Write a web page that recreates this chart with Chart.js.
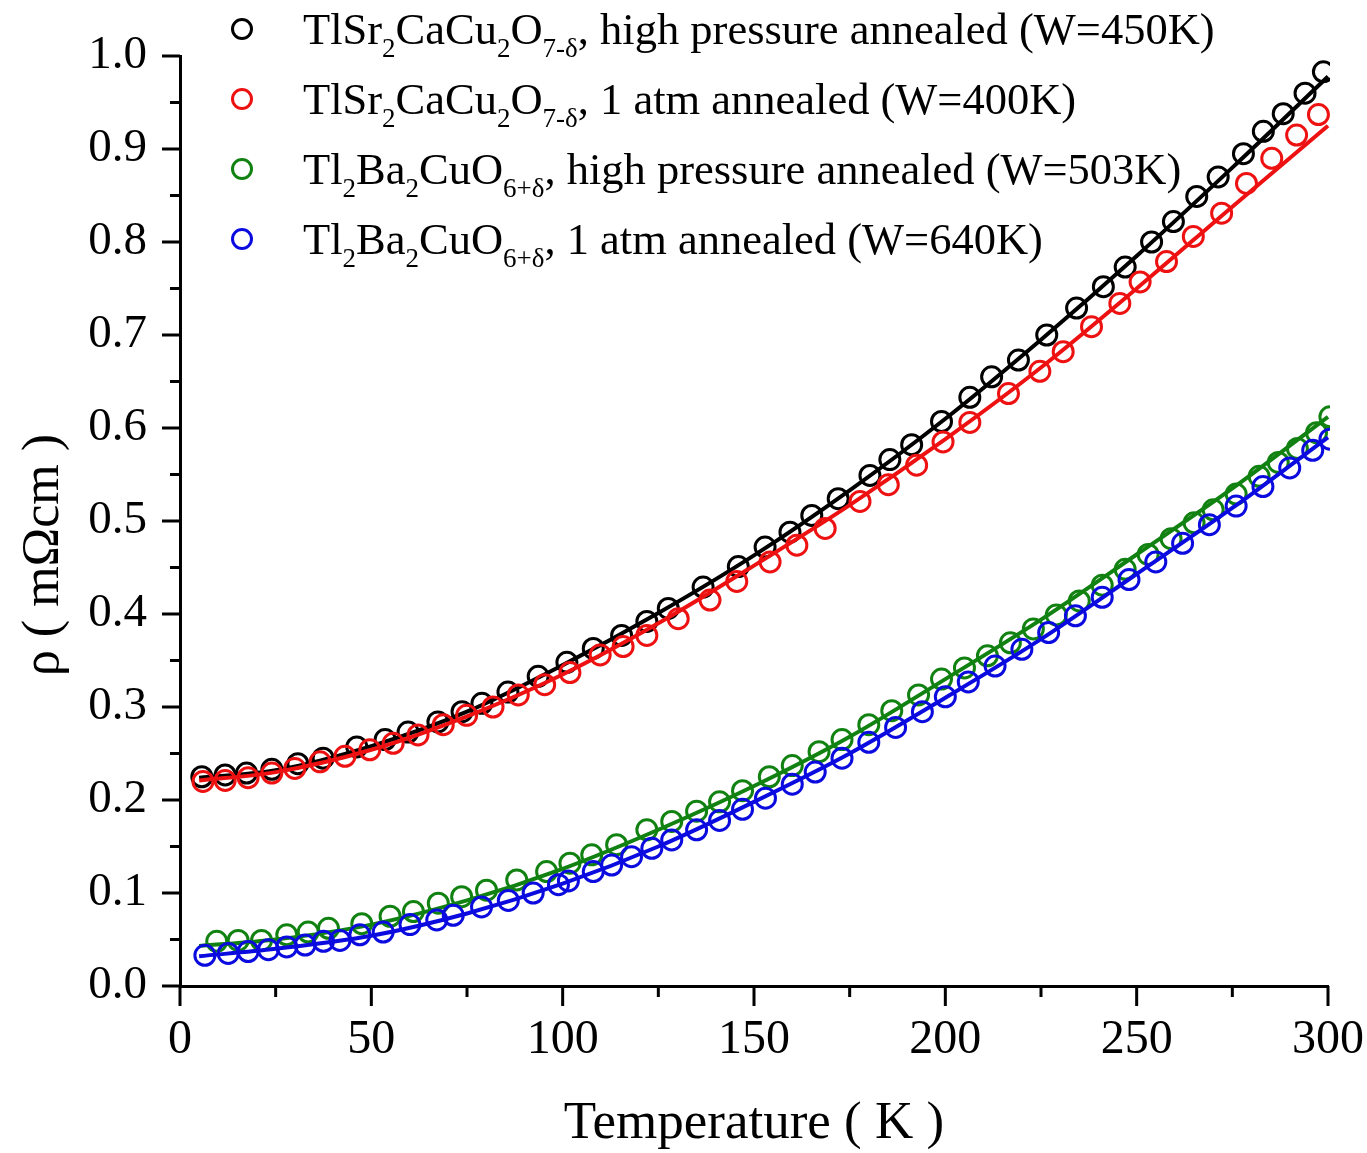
<!DOCTYPE html>
<html>
<head>
<meta charset="utf-8">
<script src="https://cdn.jsdelivr.net/npm/chart.js@4.4.1/dist/chart.umd.min.js"></script>
<style>
  html, body { margin: 0; padding: 0; background: #fff; }
  #wrap { width: 1367px; height: 1153px; position: relative; }
</style>
</head>
<body>
<div id="wrap"><canvas id="rho-chart"></canvas></div>
<script>
// measured points (temperature K, resistivity mOhm cm)
const blackT = [5.7, 11.8, 17.4, 24.0, 30.8, 37.4, 46.2, 53.6, 59.6, 67.4, 73.7, 78.9, 85.7, 93.6, 101.1, 108.0, 115.4, 122.0, 127.6, 136.7, 145.9, 152.9, 159.4, 165.1, 172.0, 180.3, 185.5, 191.2, 199.0, 206.4, 212.1, 219.1, 226.5, 234.3, 241.3, 247.0, 253.9, 259.6, 265.7, 271.3, 277.9, 283.1, 288.3, 294.0, 298.8];
const blackRho = [0.225, 0.227, 0.229, 0.233, 0.239, 0.245, 0.257, 0.265, 0.273, 0.284, 0.295, 0.304, 0.316, 0.333, 0.348, 0.363, 0.377, 0.392, 0.406, 0.429, 0.451, 0.472, 0.488, 0.506, 0.524, 0.549, 0.566, 0.582, 0.607, 0.633, 0.655, 0.673, 0.700, 0.729, 0.752, 0.773, 0.800, 0.822, 0.849, 0.870, 0.895, 0.919, 0.938, 0.960, 0.983];

const redT = [6.0, 11.8, 17.8, 24.0, 30.0, 36.6, 43.1, 49.6, 55.7, 62.2, 68.8, 74.9, 81.8, 88.4, 95.3, 101.9, 109.8, 115.8, 122.0, 130.2, 138.5, 145.5, 154.2, 161.2, 168.6, 177.7, 185.1, 192.5, 199.4, 206.4, 216.5, 224.7, 230.8, 238.2, 245.6, 250.9, 257.8, 264.8, 272.2, 278.7, 285.3, 291.8, 297.5];
const redRho = [0.220, 0.221, 0.224, 0.229, 0.234, 0.241, 0.247, 0.254, 0.261, 0.270, 0.281, 0.291, 0.300, 0.313, 0.324, 0.337, 0.356, 0.365, 0.377, 0.395, 0.415, 0.435, 0.456, 0.474, 0.492, 0.521, 0.539, 0.560, 0.585, 0.606, 0.637, 0.661, 0.682, 0.709, 0.734, 0.757, 0.779, 0.806, 0.831, 0.863, 0.890, 0.915, 0.937];

const greenT = [9.6, 15.2, 21.3, 27.9, 33.5, 38.8, 47.5, 54.9, 61.0, 67.5, 73.6, 80.1, 88.0, 95.8, 101.9, 107.6, 114.1, 122.0, 128.5, 135, 141, 147, 154, 160, 167, 173, 180, 186, 193, 199, 205, 211, 217, 223, 229, 235, 241, 247, 253, 259, 265, 270, 276, 282, 287, 292, 297, 300.5];
const greenRho = [0.048, 0.049, 0.049, 0.055, 0.058, 0.062, 0.067, 0.075, 0.080, 0.089, 0.096, 0.103, 0.114, 0.123, 0.132, 0.141, 0.152, 0.168, 0.177, 0.188, 0.198, 0.210, 0.225, 0.237, 0.252, 0.265, 0.281, 0.296, 0.313, 0.330, 0.342, 0.355, 0.369, 0.384, 0.399, 0.414, 0.431, 0.448, 0.464, 0.481, 0.498, 0.512, 0.529, 0.548, 0.563, 0.578, 0.595, 0.612];

const blueT = [6.5, 12.6, 17.8, 23.1, 27.9, 32.7, 37.5, 41.8, 47.0, 53.1, 60.1, 67.1, 71.4, 78.8, 85.8, 92.3, 98.9, 101.5, 108.0, 112.8, 118.0, 123.3, 128.5, 135, 141, 147, 153, 160, 166, 173, 180, 187, 194, 200, 206, 213, 220, 227, 234, 241, 248, 255, 262, 269, 276, 283, 290, 296, 300.5];
const blueRho = [0.033, 0.035, 0.037, 0.039, 0.042, 0.044, 0.048, 0.049, 0.055, 0.058, 0.066, 0.071, 0.076, 0.085, 0.092, 0.100, 0.109, 0.113, 0.123, 0.130, 0.139, 0.148, 0.157, 0.168, 0.178, 0.190, 0.202, 0.217, 0.230, 0.245, 0.262, 0.278, 0.295, 0.311, 0.327, 0.344, 0.362, 0.380, 0.398, 0.418, 0.437, 0.456, 0.476, 0.496, 0.516, 0.537, 0.557, 0.576, 0.588];

// fitted curves
const fitT = [5, 25, 50, 75, 100, 125, 150, 175, 200, 225, 250, 275, 300];
const blackFit = [0.224, 0.232, 0.258, 0.295, 0.345, 0.401, 0.463, 0.533, 0.610, 0.695, 0.785, 0.880, 0.978];
const redFit = [0.221, 0.230, 0.254, 0.290, 0.335, 0.390, 0.452, 0.517, 0.588, 0.665, 0.750, 0.838, 0.925];
const greenFit = [0.043, 0.050, 0.066, 0.092, 0.126, 0.168, 0.215, 0.268, 0.330, 0.394, 0.464, 0.535, 0.612];
const blueFit = [0.032, 0.040, 0.054, 0.078, 0.110, 0.150, 0.198, 0.250, 0.310, 0.373, 0.443, 0.514, 0.590];

const xMajorTicks = [0, 50, 100, 150, 200, 250, 300];
const xMinorTicks = [25, 75, 125, 175, 225, 275];
const yMajorTicks = [0, 0.1, 0.2, 0.3, 0.4, 0.5, 0.6, 0.7, 0.8, 0.9, 1.0];
const yMinorTicks = [0.05, 0.15, 0.25, 0.35, 0.45, 0.55, 0.65, 0.75, 0.85, 0.95];

const colors = ["#000000", "#ee1111", "#118211", "#0b0be0"];

// legend text pieces: [text, isSubscript]
const legendRows = [
  [["TlSr", 0], ["2", 1], ["CaCu", 0], ["2", 1], ["O", 0], ["7-δ", 1], [", high pressure annealed (W=450K)", 0]],
  [["TlSr", 0], ["2", 1], ["CaCu", 0], ["2", 1], ["O", 0], ["7-δ", 1], [", 1 atm annealed (W=400K)", 0]],
  [["Tl", 0], ["2", 1], ["Ba", 0], ["2", 1], ["CuO", 0], ["6+δ", 1], [", high pressure annealed (W=503K)", 0]],
  [["Tl", 0], ["2", 1], ["Ba", 0], ["2", 1], ["CuO", 0], ["6+δ", 1], [", 1 atm annealed (W=640K)", 0]],
];

const serif = "'Liberation Serif', 'Times New Roman', serif";
const pts = (xs, ys) => xs.map((x, i) => ({ x: x, y: ys[i] }));

function markers(xs, ys, color, order) {
  return {
    data: pts(xs, ys),
    showLine: false,
    pointStyle: "circle",
    pointRadius: 10,
    pointBorderWidth: 3,
    pointBorderColor: color,
    pointBackgroundColor: "rgba(0,0,0,0)",
    clip: 2,
    order: order,
  };
}

function fitLine(ys, color, order) {
  return {
    data: pts(fitT, ys),
    showLine: true,
    borderColor: color,
    borderWidth: 4,
    pointRadius: 0,
    cubicInterpolationMode: "monotone",
    clip: 2,
    order: order,
  };
}

const axisTicks = {
  id: "axisTicks",
  afterDraw(chart) {
    const ctx = chart.ctx;
    const xs = chart.scales.x;
    const ys = chart.scales.y;
    const left = chart.chartArea.left;
    const bottom = chart.chartArea.bottom;
    ctx.save();
    ctx.strokeStyle = "#000";
    ctx.lineWidth = 3;
    ctx.beginPath();
    xMajorTicks.forEach(v => { const p = xs.getPixelForValue(v); ctx.moveTo(p, bottom); ctx.lineTo(p, bottom + 20); });
    xMinorTicks.forEach(v => { const p = xs.getPixelForValue(v); ctx.moveTo(p, bottom); ctx.lineTo(p, bottom + 11); });
    yMajorTicks.forEach(v => { const p = ys.getPixelForValue(v); ctx.moveTo(left, p); ctx.lineTo(left - 18, p); });
    yMinorTicks.forEach(v => { const p = ys.getPixelForValue(v); ctx.moveTo(left, p); ctx.lineTo(left - 10, p); });
    ctx.stroke();

    // y axis title
    ctx.fillStyle = "#000";
    ctx.font = "52px " + serif;
    ctx.textAlign = "center";
    ctx.textBaseline = "alphabetic";
    ctx.translate(58, 555);
    ctx.rotate(-Math.PI / 2);
    ctx.fillText("ρ ( mΩcm )", 0, 0);
    ctx.restore();

    // legend with subscripts
    ctx.save();
    ctx.fillStyle = "#000";
    ctx.textAlign = "left";
    ctx.textBaseline = "alphabetic";
    legendRows.forEach((row, i) => {
      const cy = 29 + i * 70;
      ctx.beginPath();
      ctx.strokeStyle = colors[i];
      ctx.lineWidth = 3;
      ctx.arc(242, cy, 9.5, 0, Math.PI * 2);
      ctx.stroke();
      let x = 303;
      const base = 44 + i * 70;
      row.forEach(([txt, sub]) => {
        ctx.font = (sub ? "27px " : "44.5px ") + serif;
        ctx.fillText(txt, x, sub ? base + 13 : base);
        x += ctx.measureText(txt).width;
      });
    });
    ctx.restore();
  }
};

new Chart(document.getElementById("rho-chart"), {
  type: "scatter",
  data: {
    datasets: [
      markers(blackT, blackRho, colors[0], 8),
      fitLine(blackFit, colors[0], 7),
      markers(redT, redRho, colors[1], 6),
      fitLine(redFit, colors[1], 5),
      markers(greenT, greenRho, colors[2], 4),
      fitLine(greenFit, colors[2], 3),
      markers(blueT, blueRho, colors[3], 2),
      fitLine(blueFit, colors[3], 1),
    ],
  },
  options: {
    responsive: true,
    maintainAspectRatio: false,
    animation: false,
    layout: { padding: { top: 56, right: 39, left: 0, bottom: 0 } },
    plugins: {
      legend: { display: false },
      tooltip: { enabled: false },
    },
    scales: {
      x: {
        type: "linear",
        min: 0,
        max: 300,
        grid: { display: false, drawTicks: false },
        border: { display: true, color: "#000", width: 3 },
        ticks: {
          stepSize: 50,
          color: "#000",
          padding: 26,
          font: { family: serif, size: 48 },
          maxRotation: 0,
        },
        title: {
          display: true,
          text: "Temperature ( K )",
          color: "#000",
          font: { family: serif, size: 53 },
          padding: { top: 0, bottom: -3 },
        },
        afterFit(scale) {
          scale.height = 167;
          scale.paddingLeft = 0;
          scale.paddingRight = 0;
        },
      },
      y: {
        type: "linear",
        min: 0,
        max: 1,
        grid: { display: false, drawTicks: false },
        border: { display: true, color: "#000", width: 3 },
        ticks: {
          stepSize: 0.1,
          color: "#000",
          padding: 33,
          font: { family: serif, size: 47 },
          callback: v => v.toFixed(1),
        },
        afterFit(scale) {
          scale.width = 180;
          scale.paddingTop = 0;
          scale.paddingBottom = 0;
        },
      },
    },
  },
  plugins: [axisTicks],
});
</script>
</body>
</html>
